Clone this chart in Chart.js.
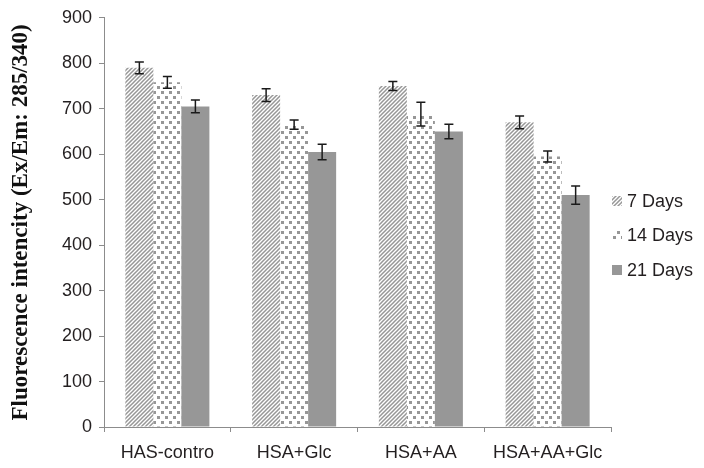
<!DOCTYPE html>
<html lang="en">
<head>
    <meta charset="UTF-8">
    <title>Fluorescence intencity</title>
    <script src="https://cdn.jsdelivr.net/npm/chart.js"></script>
    <style>
        body { margin: 0; background: #fff; }
    </style>
</head>
<body>
    <canvas id="fluoChart" width="704" height="468"></canvas>

    <script>
        // data
        var categories = ['HAS-contro', 'HSA+Glc', 'HSA+AA', 'HSA+AA+Glc'];
        var seriesNames = ['7 Days', '14 Days', '21 Days'];
        var days7 = [790, 730, 750, 670];
        var days14 = [758, 665, 688, 595];
        var days21 = [705, 605, 650, 510];
        var err7 = [13, 14, 10, 14];
        var err14 = [13, 10, 26, 12];
        var err21 = [14, 17, 16, 20];
        var yTicks = [0, 100, 200, 300, 400, 500, 600, 700, 800, 900];

        var GRAY = '#979797';
        var AXIS = '#8c8c8c';
        var TEXT = '#231f20';

        // diagonal stripes "/"
        function stripePattern() {
            var c = document.createElement('canvas');
            c.width = 4; c.height = 4;
            var g = c.getContext('2d');
            g.strokeStyle = GRAY;
            g.lineWidth = 1.5;
            g.beginPath();
            g.moveTo(-1, 5); g.lineTo(5, -1);
            g.moveTo(-3, 3); g.lineTo(3, -3);
            g.moveTo(1, 7); g.lineTo(7, 1);
            g.stroke();
            return g.createPattern(c, 'repeat');
        }

        // staggered small squares
        function dotPattern() {
            var c = document.createElement('canvas');
            c.width = 8; c.height = 10;
            var g = c.getContext('2d');
            g.fillStyle = GRAY;
            g.fillRect(1, 1, 3, 3);
            g.fillRect(5, 6, 3, 3);
            return g.createPattern(c, 'repeat');
        }

        // error bars drawn on top of each bar
        var errorBars = {
            id: 'errorBars',
            afterDatasetsDraw: function (chart) {
                var ctx = chart.ctx;
                var y = chart.scales.y;
                ctx.save();
                ctx.strokeStyle = '#1a1a1a';
                ctx.lineWidth = 1.5;
                chart.data.datasets.forEach(function (ds, i) {
                    var meta = chart.getDatasetMeta(i);
                    meta.data.forEach(function (bar, j) {
                        var v = ds.data[j], e = ds.errors[j];
                        var top = y.getPixelForValue(v + e);
                        var bot = y.getPixelForValue(v - e);
                        ctx.beginPath();
                        ctx.moveTo(bar.x, top); ctx.lineTo(bar.x, bot);
                        ctx.moveTo(bar.x - 4.5, top); ctx.lineTo(bar.x + 4.5, top);
                        ctx.moveTo(bar.x - 4.5, bot); ctx.lineTo(bar.x + 4.5, bot);
                        ctx.stroke();
                    });
                });
                ctx.restore();
            }
        };

        // legend on the right
        var sideLegend = {
            id: 'sideLegend',
            afterDraw: function (chart) {
                var ctx = chart.ctx;
                var x = chart.chartArea.right + 1;
                var mid = 235.5;
                ctx.save();
                ctx.font = '18px "Liberation Sans", Arial, sans-serif';
                ctx.textBaseline = 'middle';
                chart.data.datasets.forEach(function (ds, i) {
                    var cy = mid + (i - 1) * 34.5;
                    ctx.fillStyle = ds.backgroundColor;
                    ctx.fillRect(x, cy - 5, 10, 10);
                    ctx.fillStyle = TEXT;
                    ctx.fillText(ds.label, x + 15, cy + 1);
                });
                ctx.restore();
            }
        };

        var ctx = document.getElementById('fluoChart').getContext('2d');
        var fluoChart = new Chart(ctx, {
            type: 'bar',
            data: {
                labels: categories,
                datasets: [
                    { label: seriesNames[0], data: days7, errors: err7, backgroundColor: stripePattern() },
                    { label: seriesNames[1], data: days14, errors: err14, backgroundColor: dotPattern() },
                    { label: seriesNames[2], data: days21, errors: err21, backgroundColor: GRAY }
                ]
            },
            options: {
                responsive: false,
                animation: false,
                events: [],
                categoryPercentage: 0.663,
                barPercentage: 1,
                layout: { padding: { top: 17, right: 93, left: 0, bottom: 0 } },
                plugins: {
                    legend: { display: false },
                    tooltip: { enabled: false }
                },
                scales: {
                    x: {
                        afterFit: function (s) { s.height = 41; },
                        grid: { drawOnChartArea: false, drawTicks: true, tickLength: 5, color: AXIS, offset: true },
                        border: { color: AXIS, width: 1 },
                        ticks: {
                            color: TEXT,
                            padding: 10,
                            maxRotation: 0,
                            font: { family: '"Liberation Sans", Arial, sans-serif', size: 18 }
                        }
                    },
                    y: {
                        min: 0,
                        max: 900,
                        afterFit: function (s) { s.width = 104; },
                        afterBuildTicks: function (s) {
                            s.ticks = yTicks.map(function (v) { return { value: v }; });
                        },
                        grid: { drawOnChartArea: false, drawTicks: true, tickLength: 5, color: AXIS },
                        border: { color: AXIS, width: 1 },
                        ticks: {
                            color: TEXT,
                            padding: 7,
                            font: { family: '"Liberation Sans", Arial, sans-serif', size: 18 }
                        },
                        title: {
                            display: true,
                            text: 'Fluorescence intencity (Ex/Em: 285/340)',
                            color: '#111',
                            padding: { top: 7, bottom: 0 },
                            font: { family: '"Liberation Serif", "Times New Roman", serif', size: 23, weight: 'bold' }
                        }
                    }
                }
            },
            plugins: [errorBars, sideLegend]
        });
    </script>
</body>
</html>
